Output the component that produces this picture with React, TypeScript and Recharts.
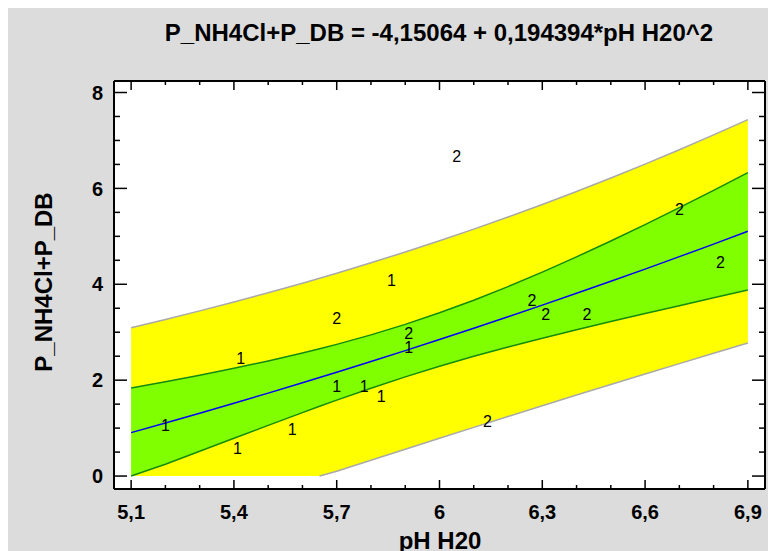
import React from "react";
import {
  ComposedChart, Area, Line, Scatter, XAxis, YAxis, CartesianGrid,
} from "recharts";

// grid of pH values the fitted curves were read at
const X_VALUES = [5.1, 5.2, 5.3, 5.4, 5.5, 5.6, 5.65, 5.7, 5.8, 5.9, 6.0, 6.1, 6.2, 6.3, 6.4, 6.5, 6.6, 6.7, 6.8, 6.9];
const FIT = [0.906, 1.106, 1.31, 1.518, 1.73, 1.946, 2.055, 2.165, 2.389, 2.616, 2.848, 3.083, 3.322, 3.565, 3.812, 4.063, 4.317, 4.576, 4.838, 5.105];
const UPPER_PRED = [3.095, 3.267, 3.445, 3.63, 3.823, 4.023, 4.126, 4.231, 4.448, 4.673, 4.907, 5.15, 5.402, 5.664, 5.935, 6.216, 6.506, 6.806, 7.116, 7.435];
const LOWER_PRED = [null, null, null, null, null, null, 0, 0.099, 0.33, 0.56, 0.788, 1.016, 1.242, 1.466, 1.689, 1.909, 2.128, 2.345, 2.561, 2.774];
const UPPER_CONF = [1.836, 1.966, 2.103, 2.248, 2.402, 2.567, 2.655, 2.747, 2.945, 3.164, 3.405, 3.668, 3.952, 4.254, 4.572, 4.903, 5.245, 5.598, 5.959, 6.329];
const LOWER_CONF = [0, 0.246, 0.517, 0.788, 1.058, 1.324, 1.455, 1.583, 1.832, 2.068, 2.29, 2.498, 2.692, 2.876, 3.052, 3.222, 3.389, 3.554, 3.717, 3.88];

// observations, labelled by group code
const GROUP1_X = [5.2, 5.41, 5.42, 5.57, 5.7, 5.78, 5.83, 5.86, 5.91];
const GROUP1_Y = [1.06, 0.58, 2.46, 0.98, 1.88, 1.88, 1.67, 4.09, 2.69];
const GROUP2_X = [5.7, 5.91, 6.05, 6.14, 6.27, 6.31, 6.43, 6.7, 6.82];
const GROUP2_Y = [3.29, 2.98, 6.68, 1.15, 3.67, 3.38, 3.38, 5.57, 4.47];

const X_TICKS = [5.1, 5.2, 5.3, 5.4, 5.5, 5.6, 5.7, 5.8, 5.9, 6, 6.1, 6.2, 6.3, 6.4, 6.5, 6.6, 6.7, 6.8, 6.9];
const X_MAJOR = [5.1, 5.4, 5.7, 6, 6.3, 6.6, 6.9];
const Y_TICKS = [0, 0.5, 1, 1.5, 2, 2.5, 3, 3.5, 4, 4.5, 5, 5.5, 6, 6.5, 7, 7.5, 8];
const Y_MAJOR = [0, 2, 4, 6, 8];

const rows = X_VALUES.map((x, i) => ({
  x,
  fit: FIT[i],
  pred: [LOWER_PRED[i] ?? 0, UPPER_PRED[i]],
  conf: [LOWER_CONF[i], UPPER_CONF[i]],
  up: UPPER_PRED[i],
  lp: LOWER_PRED[i],
  uc: UPPER_CONF[i],
  lc: LOWER_CONF[i],
}));
const group1 = GROUP1_X.map((x, i) => ({ x, y: GROUP1_Y[i] }));
const group2 = GROUP2_X.map((x, i) => ({ x, y: GROUP2_Y[i] }));

const FONT = "'Liberation Sans', Arial, sans-serif";
const isMajor = (list: number[], v: number) => list.some((m) => Math.abs(m - v) < 1e-6);
const fmt = (v: number) => String(v).replace(".", ",");

const BottomTick = ({ x, y, payload }: any) => {
  const major = isMajor(X_MAJOR, payload.value);
  return (
    <g>
      <line x1={x} x2={x} y1={y} y2={y - (major ? 9 : 4)} stroke="#000" strokeWidth={1.5} />
      {major && (
        <text x={x} y={y + 30} textAnchor="middle" fontSize={20} fontWeight="bold" fontFamily={FONT} fill="#000">
          {fmt(payload.value)}
        </text>
      )}
    </g>
  );
};

const TopTick = ({ x, y, payload }: any) => {
  const major = isMajor(X_MAJOR, payload.value);
  return <line x1={x} x2={x} y1={y} y2={y + (major ? 9 : 4)} stroke="#000" strokeWidth={1.5} />;
};

const LeftTick = ({ x, y, payload }: any) => {
  const major = isMajor(Y_MAJOR, payload.value);
  return (
    <g>
      <line x1={x} x2={x + (major ? 13 : 6)} y1={y} y2={y} stroke="#000" strokeWidth={1.5} />
      {major && (
        <text x={x - 11} y={y} dy="0.36em" textAnchor="end" fontSize={20} fontWeight="bold" fontFamily={FONT} fill="#000">
          {fmt(payload.value)}
        </text>
      )}
    </g>
  );
};

const RightTick = ({ x, y, payload }: any) => {
  const major = isMajor(Y_MAJOR, payload.value);
  return <line x1={x} x2={x - (major ? 13 : 6)} y1={y} y2={y} stroke="#000" strokeWidth={1.5} />;
};

const codeMark = (code: string) => (props: any) => (
  <text x={props.cx} y={props.cy} dy="0.36em" textAnchor="middle" fontSize={16} fontFamily={FONT} fill="#000">
    {code}
  </text>
);

export default function App() {
  return (
    <div style={{ position: "relative", width: 768, height: 543, background: "#dcdcdc", fontFamily: FONT }}>
      <div
        style={{
          position: "absolute", left: 431, top: 13, transform: "translateX(-50%)",
          fontSize: 24, fontWeight: "bold", lineHeight: 1, whiteSpace: "nowrap", color: "#000",
        }}
      >
        P_NH4Cl+P_DB = -4,15064 + 0,194394*pH H20^2
      </div>
      <div
        style={{
          position: "absolute", left: 36, top: 274, transform: "translate(-50%, -50%) rotate(-90deg)",
          fontSize: 24, fontWeight: "bold", lineHeight: 1, whiteSpace: "nowrap", color: "#000",
        }}
      >
        P_NH4Cl+P_DB
      </div>
      <div
        style={{
          position: "absolute", left: 432, top: 521, transform: "translateX(-50%)",
          fontSize: 24, fontWeight: "bold", lineHeight: 1, whiteSpace: "nowrap", color: "#000",
        }}
      >
        pH H20
      </div>
      <ComposedChart width={768} height={543} data={rows} margin={{ top: 72, right: 10, bottom: 12, left: 46 }}>
        <CartesianGrid horizontal={false} vertical={false} fill="#ffffff" stroke="none" />
        <XAxis
          dataKey="x" type="number" domain={[5.05, 6.95]} allowDataOverflow ticks={X_TICKS} interval={0}
          height={50} tickSize={0} tickMargin={0} tickLine={false} tick={<BottomTick />}
          axisLine={{ stroke: "#000", strokeWidth: 2 }}
        />
        <XAxis
          xAxisId="top" orientation="top" dataKey="x" type="number" domain={[5.05, 6.95]} allowDataOverflow
          ticks={X_TICKS} interval={0} height={1} tickSize={0} tickMargin={0} tickLine={false} tick={<TopTick />}
          axisLine={{ stroke: "#000", strokeWidth: 2 }}
        />
        <YAxis
          type="number" domain={[-0.27, 8.24]} allowDataOverflow ticks={Y_TICKS} interval={0}
          width={60} tickSize={0} tickMargin={0} tickLine={false} tick={<LeftTick />}
          axisLine={{ stroke: "#000", strokeWidth: 2 }}
        />
        <YAxis
          yAxisId="right" orientation="right" type="number" domain={[-0.27, 8.24]} allowDataOverflow ticks={Y_TICKS}
          interval={0} width={1} tickSize={0} tickMargin={0} tickLine={false} tick={<RightTick />}
          axisLine={{ stroke: "#000", strokeWidth: 2 }}
        />
        <Area dataKey="pred" type="linear" fill="#ffff00" fillOpacity={1} stroke="none" isAnimationActive={false} />
        <Area dataKey="conf" type="linear" fill="#7fff00" fillOpacity={1} stroke="none" isAnimationActive={false} />
        <Line dataKey="up" type="linear" stroke="#a9a9a9" strokeWidth={1.5} dot={false} isAnimationActive={false} />
        <Line dataKey="lp" type="linear" stroke="#a9a9a9" strokeWidth={1.5} dot={false} isAnimationActive={false} />
        <Line dataKey="uc" type="linear" stroke="#138a13" strokeWidth={1.5} dot={false} isAnimationActive={false} />
        <Line dataKey="lc" type="linear" stroke="#138a13" strokeWidth={1.5} dot={false} isAnimationActive={false} />
        <Line dataKey="fit" type="linear" stroke="#0000ff" strokeWidth={1.5} dot={false} isAnimationActive={false} />
        <Scatter data={group1} dataKey="y" shape={codeMark("1")} isAnimationActive={false} />
        <Scatter data={group2} dataKey="y" shape={codeMark("2")} isAnimationActive={false} />
      </ComposedChart>
    </div>
  );
}
